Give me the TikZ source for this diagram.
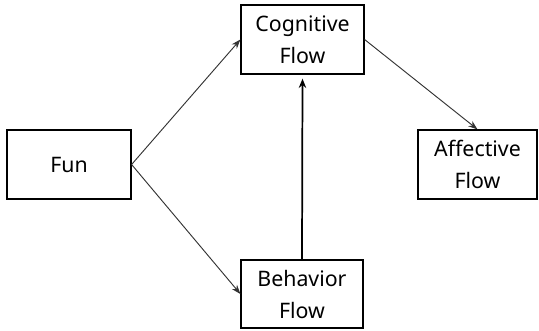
\documentclass[tikz,border=0pt]{standalone}
\usepackage{fontspec}
\setmainfont{Noto Sans}
\usetikzlibrary{arrows.meta}
\begin{document}
\begin{tikzpicture}[x=0.75pt,y=-0.75pt,
  box/.style={draw=black,line width=0.9pt,fill=white,inner sep=0pt,align=center,font=\fontsize{16}{24}\selectfont},
  conn/.style={draw=black!80,line width=0.7pt,-{Stealth[length=7pt,width=5pt]}},
  thick conn/.style={draw=black,line width=1.3pt,-{Stealth[length=7pt,width=5.5pt]}}]
\useasboundingbox (0,0) rectangle (539,330);
\node[box,minimum width=123*0.75pt,minimum height=69*0.75pt] (cog) at (302.5,39.5) {Cognitive\\Flow};
\node[box,minimum width=124*0.75pt,minimum height=69*0.75pt] (fun) at (69,164.5) {Fun};
\node[box,minimum width=119*0.75pt,minimum height=69*0.75pt] (aff) at (477.5,164.5) {Affective\\Flow};
\node[box,minimum width=122*0.75pt,minimum height=68*0.75pt] (beh) at (302,294) {Behavior\\Flow};
\draw[conn] (fun.east) -- (cog.west);
\draw[conn] (fun.east) -- (beh.west);
\draw[conn] (cog.east) -- (aff.north);
\draw[thick conn] (beh.north) -- ([yshift=-3pt]cog.south);
\end{tikzpicture}
\end{document}
